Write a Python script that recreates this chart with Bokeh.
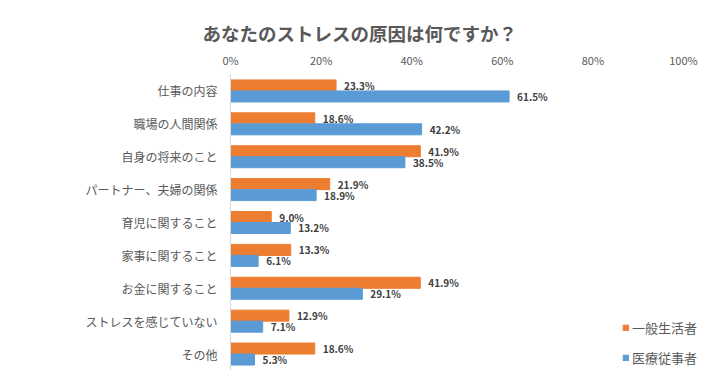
from bokeh.plotting import figure
from bokeh.models import ColumnDataSource, FactorRange, PrintfTickFormatter, Legend, LegendItem, Range1d
from bokeh.transform import dodge
from bokeh.core.properties import value
from bokeh.embed import file_html
from bokeh.resources import INLINE

categories = ["仕事の内容", "職場の人間関係", "自身の将来のこと", "パートナー、夫婦の関係",
              "育児に関すること", "家事に関すること", "お金に関すること", "ストレスを感じていない", "その他"]
general = [23.3, 18.6, 41.9, 21.9, 9.0, 13.3, 41.9, 12.9, 18.6]
medical = [61.5, 42.2, 38.5, 18.9, 13.2, 6.1, 29.1, 7.1, 5.3]
series_names = ["一般生活者", "医療従事者"]
x_ticks = [0, 20, 40, 60, 80, 100]

ORANGE = "#ED7D31"
BLUE = "#5B9BD5"
JP = "Noto Sans CJK JP"

src = ColumnDataSource(dict(
    cat=categories,
    general=general,
    medical=medical,
    general_lbl=[f"{v:.1f}%" for v in general],
    medical_lbl=[f"{v:.1f}%" for v in medical],
))

# frame spans 486px; 0..100 occupies 453px, the rest holds the legend
p = figure(width=716, height=377, output_backend="svg", toolbar_location=None,
           y_range=FactorRange(factors=list(reversed(categories))),
           x_range=Range1d(0, 100 * 486 / 453), x_axis_location="above",
           min_border_left=230, min_border_right=0, min_border_bottom=7, min_border_top=74)

r1 = p.hbar(y=dodge("cat", 0.167, range=p.y_range), right="general", left=0, height=0.335,
            source=src, color=ORANGE)
r2 = p.hbar(y=dodge("cat", -0.167, range=p.y_range), right="medical", left=0, height=0.335,
            source=src, color=BLUE)

for col, off in (("general", 0.167), ("medical", -0.167)):
    p.text(x=col, y=dodge("cat", off, range=p.y_range), text=col + "_lbl", source=src,
           x_offset=8, text_align="left", text_baseline="middle",
           text_font=value(JP), text_font_size="10px", text_font_style="bold",
           text_color="#404040")

p.title.text = "あなたのストレスの原因は何ですか？"
p.title.align = "left"
p.title.offset = -31
p.title.standoff = 5
p.title.text_font = JP
p.title.text_font_size = "18.5px"
p.title.text_font_style = "bold"
p.title.text_color = "#595959"
if "padding" in p.title.properties():
    p.title.padding = (3, 0, 0, 0)

xa = p.xaxis[0]
xa.ticker = x_ticks
xa.formatter = PrintfTickFormatter(format="%d%%")
xa.axis_line_color = None
xa.major_tick_line_color = None
xa.minor_tick_line_color = None
xa.major_tick_out = 0
xa.major_label_text_font = JP
xa.major_label_text_font_size = "11px"
xa.major_label_text_color = "#595959"
xa.major_label_standoff = 7

ya = p.yaxis[0]
ya.axis_line_color = "#D9D9D9"
ya.major_tick_line_color = None
ya.minor_tick_line_color = None
ya.major_tick_out = 0
ya.major_label_text_font = JP
ya.major_label_text_font_size = "12px"
ya.major_label_text_color = "#595959"
ya.major_label_standoff = 13

p.xgrid.grid_line_color = None
p.ygrid.grid_line_color = None
p.outline_line_color = None

legend = Legend(items=[LegendItem(label=series_names[0], renderers=[r1]),
                       LegendItem(label=series_names[1], renderers=[r2])],
                location=(392, 3), orientation="vertical",
                glyph_width=7, glyph_height=7, spacing=11, padding=0, margin=0,
                label_text_font=JP, label_text_font_size="13px", label_text_color="#595959",
                label_standoff=3, border_line_color=None, background_fill_alpha=0)
p.add_layout(legend)

open("out.html", "w").write(file_html(p, INLINE))
